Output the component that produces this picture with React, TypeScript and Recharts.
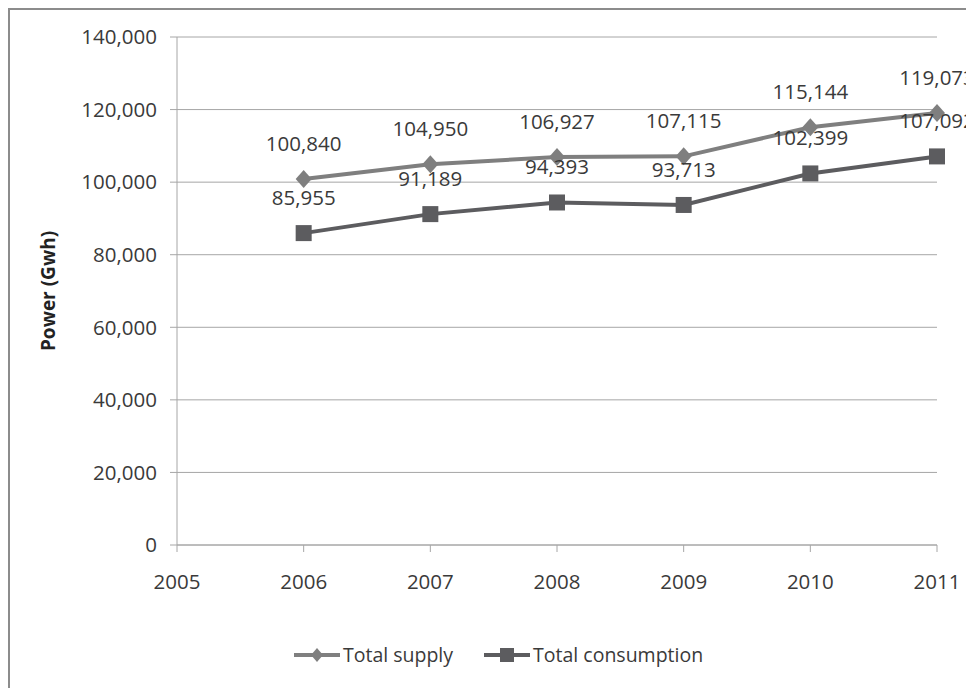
import { LineChart, Line, XAxis, YAxis, CartesianGrid, Legend, LabelList } from 'recharts';

const years = [2006, 2007, 2008, 2009, 2010, 2011];
const totalSupply = [100840, 104950, 106927, 107115, 115144, 119073];
const totalConsumption = [85955, 91189, 94393, 93713, 102399, 107092];
const xTicks = [2005, 2006, 2007, 2008, 2009, 2010, 2011];
const yTicks = [0, 20000, 40000, 60000, 80000, 100000, 120000, 140000];

const SUPPLY = '#7f7f7f';
const CONSUMPTION = '#5c5c5f';
const GRID = '#a6a6a6';
const TEXT = '#3a3a3a';
const FONT = '"Open Sans", sans-serif';

const data = years.map((year, i) => ({
  year,
  supply: totalSupply[i],
  consumption: totalConsumption[i],
}));

const fmt = (v: number) => v.toLocaleString('en-US');

const Diamond = (props: any) => {
  const { cx, cy, index } = props;
  if (cx == null || cy == null) return null;
  return (
    <path
      key={`d-${index}`}
      d={`M${cx},${cy - 9}L${cx + 8},${cy}L${cx},${cy + 9}L${cx - 8},${cy}Z`}
      fill={SUPPLY}
    />
  );
};

const Square = (props: any) => {
  const { cx, cy, index } = props;
  if (cx == null || cy == null) return null;
  return <rect key={`s-${index}`} x={cx - 8} y={cy - 8} width={16} height={16} fill={CONSUMPTION} />;
};

const LegendContent = () => (
  <div style={{ display: 'flex', alignItems: 'center', fontFamily: FONT, fontSize: 19.5, color: TEXT }}>
    <svg width={48} height={20} style={{ marginRight: 2 }}>
      <line x1={1} y1={10} x2={47} y2={10} stroke={SUPPLY} strokeWidth={4} />
      <path d="M24,3L30,10L24,17L18,10Z" fill={SUPPLY} />
    </svg>
    <span>Total supply</span>
    <svg width={48} height={20} style={{ marginLeft: 30, marginRight: 2 }}>
      <line x1={1} y1={10} x2={47} y2={10} stroke={CONSUMPTION} strokeWidth={4} />
      <rect x={17} y={3} width={14} height={14} fill={CONSUMPTION} />
    </svg>
    <span>Total consumption</span>
  </div>
);

export default function App() {
  return (
    <div style={{ borderTop: `2px solid #8c8c8c`, borderLeft: `2px solid #8c8c8c`, width: 964, height: 678 }}>
      <LineChart
        width={964}
        height={678}
        data={data}
        margin={{ top: 27, right: 37, bottom: 93, left: 0 }}
        style={{ fontFamily: FONT }}
      >
        <CartesianGrid vertical={false} stroke={GRID} />
        <XAxis
          dataKey="year"
          type="number"
          domain={[2005, 2011]}
          ticks={xTicks}
          height={50}
          stroke={GRID}
          tickSize={7}
          tickMargin={22}
          tick={{ fill: TEXT, fontSize: 20.5 }}
        />
        <YAxis
          domain={[0, 140000]}
          ticks={yTicks}
          width={167}
          stroke={GRID}
          tickSize={7}
          tickMargin={13}
          tickFormatter={fmt}
          tick={{ fill: TEXT, fontSize: 20.5 }}
          label={{
            value: 'Power (Gwh)',
            angle: -90,
            position: 'insideLeft',
            offset: 38,
            style: { textAnchor: 'middle', fill: '#222', fontSize: 19, fontWeight: 'bold' },
          }}
        />
        <Legend
          layout="horizontal"
          verticalAlign="middle"
          align="center"
          wrapperStyle={{ top: 631, left: 283, width: 'auto' }}
          content={<LegendContent />}
        />
        <Line
          dataKey="supply"
          stroke={SUPPLY}
          strokeWidth={4}
          dot={Diamond}
          activeDot={false}
          isAnimationActive={false}
        >
          <LabelList dataKey="supply" position="top" offset={28} formatter={fmt} fill={TEXT} fontSize={20.5} />
        </Line>
        <Line
          dataKey="consumption"
          stroke={CONSUMPTION}
          strokeWidth={4}
          dot={Square}
          activeDot={false}
          isAnimationActive={false}
        >
          <LabelList dataKey="consumption" position="top" offset={28} formatter={fmt} fill={TEXT} fontSize={20.5} />
        </Line>
      </LineChart>
    </div>
  );
}
